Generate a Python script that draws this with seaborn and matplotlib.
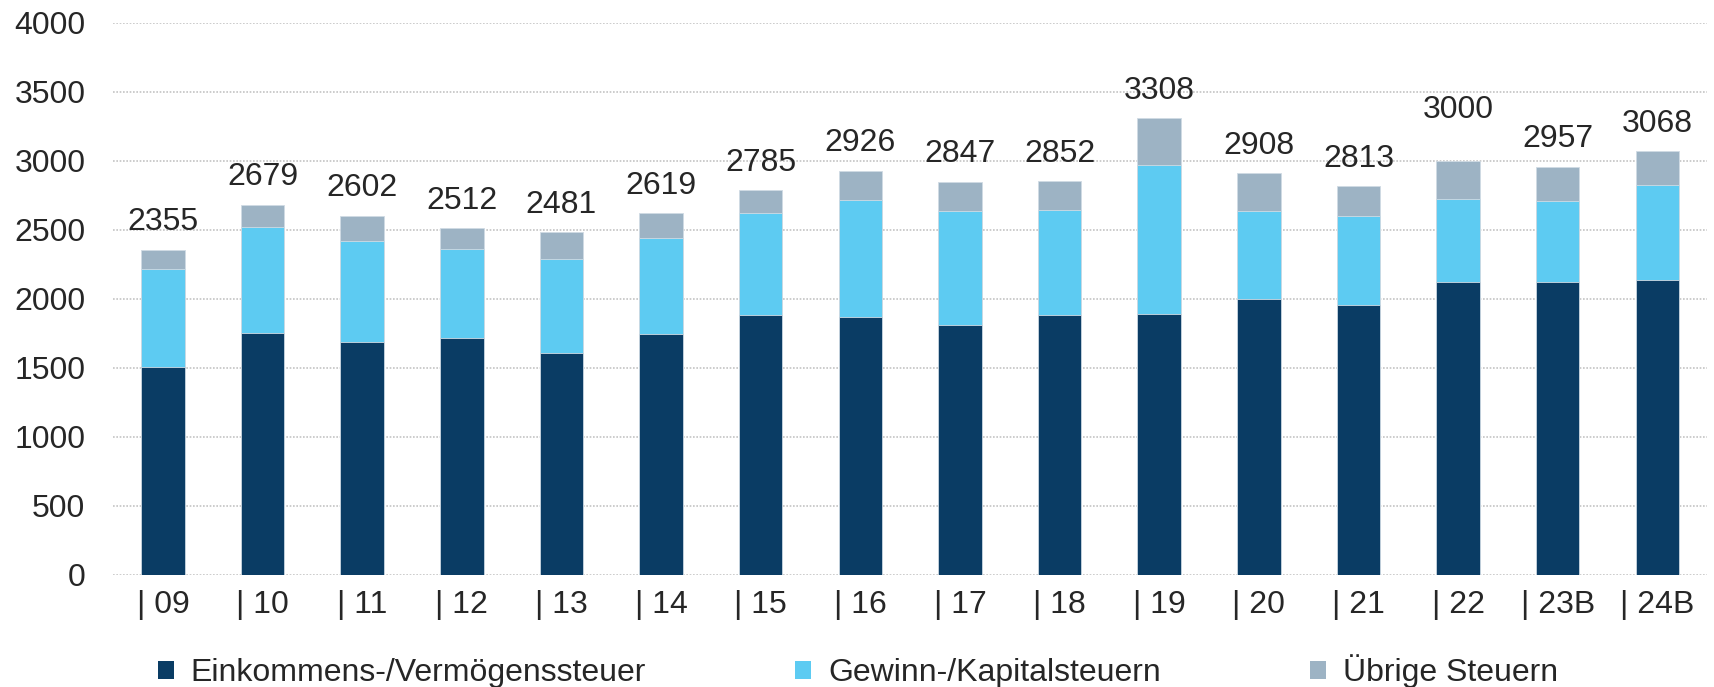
import numpy as np
import pandas as pd
import matplotlib
matplotlib.use("Agg")
import matplotlib.pyplot as plt
import seaborn as sns
from matplotlib.patches import Patch

# data
years = ["09", "10", "11", "12", "13", "14", "15", "16", "17", "18", "19", "20", "21", "22", "23B", "24B"]
einkommen = [1507, 1749, 1686, 1713, 1609, 1742, 1885, 1869, 1813, 1885, 1887, 1998, 1954, 2123, 2123, 2133]
gewinn = [706, 771, 734, 649, 681, 699, 739, 843, 819, 755, 1080, 638, 647, 602, 583, 689]
uebrige = [142, 159, 182, 150, 191, 178, 161, 214, 215, 212, 341, 272, 212, 275, 251, 246]
totals = [2355, 2679, 2602, 2512, 2481, 2619, 2785, 2926, 2847, 2852, 3308, 2908, 2813, 3000, 2957, 3068]

series_names = ["Einkommens-/Vermögenssteuer", "Gewinn-/Kapitalsteuern", "Übrige Steuern"]
colors = ["#0A3C64", "#5DCBF2", "#9DB3C4"]

df = pd.DataFrame({"Jahr": years, "ek": einkommen, "gw": gewinn, "ub": uebrige, "total": totals})
df["cum1"] = df["ek"]
df["cum2"] = df["ek"] + df["gw"]
df["cum3"] = df["cum2"] + df["ub"]

sns.set_style("white")
plt.rcParams["font.family"] = ["Liberation Sans", "DejaVu Sans"]
FS = 23

fig = plt.figure(figsize=(17.14, 6.87), dpi=100)
ax = fig.add_axes([0.066, 0.1634, 0.93, 0.8036])

# stacked bars: draw cumulative heights from top layer down
bar_w = 0.436
for col, c in zip(["cum3", "cum2", "cum1"], colors[::-1]):
    sns.barplot(data=df, x="Jahr", y=col, color=c, width=bar_w, ax=ax,
                edgecolor="#d0dbe4", linewidth=0.6, saturation=1, zorder=3)

# total labels above the bars
for i, t in enumerate(totals):
    extra = 17 if years[i] == "22" else 0
    ax.annotate(str(t), (i, df["cum3"][i]), xytext=(0, 9 + extra), textcoords="offset points",
                ha="center", va="bottom", fontsize=FS)

ax.set_ylim(0, 4000)
ax.set_xlim(-0.5, len(years) - 0.5)
ax.set_yticks(np.arange(0, 4001, 500))
ax.set_xticks(range(len(years)))
ax.set_xticklabels(["| " + y for y in years])
ax.tick_params(axis="both", labelsize=FS, length=0)
ax.tick_params(axis="y", pad=20)
ax.tick_params(axis="x", pad=11)
ax.set_xlabel("")
ax.set_ylabel("")
ax.yaxis.grid(True, color="#c4c4c4", linestyle=(0, (1, 1)), linewidth=1.2, zorder=0)
ax.set_axisbelow(True)
for s in ax.spines.values():
    s.set_visible(False)

handles = [Patch(facecolor=c, edgecolor="none") for c in colors]
fig.legend(handles, series_names, loc="center left", bbox_to_anchor=(0.092, 0.023),
           ncol=3, frameon=False, fontsize=FS, handlelength=0.5, handleheight=0.5,
           handletextpad=0.53, columnspacing=4.67, borderpad=0, borderaxespad=0)

fig.savefig("out.png", dpi=100)
